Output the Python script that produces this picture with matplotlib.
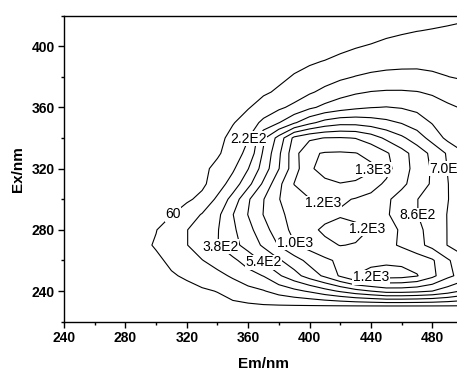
import matplotlib
import numpy as np

matplotlib.use("Agg")
import matplotlib.pyplot as plt
from matplotlib.ticker import MultipleLocator


OUT_FILE = "out.png"

# emission (columns) and excitation (rows) wavelengths of the EEM grid, nm
EM = [240, 250, 260, 270, 280, 290, 300, 310, 320, 330, 340, 350, 360, 370,
      380, 390, 400, 410, 420, 430, 440, 450, 460, 470, 480, 490, 500]
EX = [220, 230, 240, 250, 260, 270, 280, 290, 300, 310, 320,
      330, 340, 350, 360, 370, 380, 390, 400, 410, 420]

# fluorescence intensity, one row per excitation wavelength
INTENSITY = [
    [0, 0, 0, 0, 0, 0, 0, 0, 0, 0, 0, 0, 0, 0, 0, 0, 0, 0, 0, 0, 0, 0, 0, 0, 0, 0, 0],
    [0, 0, 0, 0, 0, 0, 0, 0, 0, 0, 5, 15, 30, 40, 40, 40, 40, 40, 40, 40, 40, 40, 40, 40, 40, 40, 40],
    [0, 0, 0, 0, 0, 0, 0, 5, 15, 40, 65, 130, 170, 210, 280, 340, 400, 480, 560, 640, 700, 760, 760, 740, 700, 620, 520],
    [0, 0, 0, 0, 0, 0, 20, 45, 80, 130, 180, 240, 320, 385, 520, 640, 770, 890, 1040, 1185, 1230, 1250, 1240, 1190, 1060, 900, 800],
    [0, 0, 0, 0, 0, 0, 30, 90, 160, 215, 280, 345, 450, 565, 680, 790, 910, 990, 1050, 1100, 1140, 1150, 1140, 1110, 1040, 880, 760],
    [0, 0, 0, 0, 0, 20, 75, 150, 215, 300, 375, 490, 600, 725, 870, 1010, 1080, 1140, 1185, 1170, 1120, 1060, 1000, 910, 810, 695, 600],
    [0, 0, 0, 0, 0, 10, 55, 140, 215, 300, 370, 510, 650, 800, 950, 1060, 1140, 1210, 1260, 1230, 1170, 1080, 1000, 900, 800, 695, 600],
    [0, 0, 0, 0, 0, 0, 20, 55, 140, 230, 340, 535, 705, 865, 995, 1060, 1100, 1130, 1160, 1130, 1090, 1040, 940, 865, 780, 695, 620],
    [0, 0, 0, 0, 0, 0, 0, 0, 35, 100, 250, 440, 680, 855, 1015, 1100, 1175, 1200, 1205, 1170, 1130, 1050, 950, 865, 780, 705, 620],
    [0, 0, 0, 0, 0, 0, 0, 0, 0, 30, 140, 290, 490, 730, 980, 1185, 1260, 1310, 1335, 1320, 1250, 1150, 1060, 940, 840, 705, 600],
    [0, 0, 0, 0, 0, 0, 0, 0, 0, 15, 110, 195, 375, 610, 855, 1110, 1320, 1390, 1420, 1410, 1370, 1240, 1080, 970, 840, 695, 600],
    [0, 0, 0, 0, 0, 0, 0, 0, 0, 0, 35, 150, 260, 565, 830, 1120, 1320, 1350, 1355, 1345, 1300, 1200, 1080, 950, 820, 680, 560],
    [0, 0, 0, 0, 0, 0, 0, 0, 0, 0, 10, 110, 215, 510, 760, 1060, 1150, 1185, 1190, 1175, 1100, 990, 890, 780, 640, 500, 400],
    [0, 0, 0, 0, 0, 0, 0, 0, 0, 0, 0, 50, 130, 260, 375, 520, 660, 760, 810, 810, 780, 740, 690, 620, 530, 450, 390],
    [0, 0, 0, 0, 0, 0, 0, 0, 0, 0, 0, 0, 50, 120, 190, 260, 350, 420, 470, 510, 535, 545, 530, 500, 450, 400, 370],
    [0, 0, 0, 0, 0, 0, 0, 0, 0, 0, 0, 0, 0, 40, 80, 130, 200, 260, 320, 360, 385, 395, 395, 385, 360, 330, 300],
    [0, 0, 0, 0, 0, 0, 0, 0, 0, 0, 0, 0, 0, 0, 30, 70, 100, 150, 190, 225, 250, 262, 265, 262, 245, 222, 200],
    [0, 0, 0, 0, 0, 0, 0, 0, 0, 0, 0, 0, 0, 0, 0, 20, 45, 65, 90, 120, 145, 165, 175, 180, 175, 170, 165],
    [0, 0, 0, 0, 0, 0, 0, 0, 0, 0, 0, 0, 0, 0, 0, 0, 0, 0, 30, 50, 70, 90, 105, 115, 120, 125, 130],
    [0, 0, 0, 0, 0, 0, 0, 0, 0, 0, 0, 0, 0, 0, 0, 0, 0, 0, 0, 0, 0, 30, 45, 58, 66, 72, 78],
    [0, 0, 0, 0, 0, 0, 0, 0, 0, 0, 0, 0, 0, 0, 0, 0, 0, 0, 0, 0, 0, 0, 0, 0, 20, 35, 45],
]

LEVELS = [60, 220, 380, 540, 700, 860, 1020, 1180, 1340]

# where each level carries its label (level, Em, Ex)
LABEL_SPOTS = [
    (60, 311, 290),
    (220, 360, 339.5),
    (380, 342, 269),
    (540, 370, 259),
    (1020, 391, 272),
    (1340, 441, 320),
    (700, 490, 320),
    (860, 470, 289.5),
    (1180, 410, 300),
    (1180, 437, 280),
    (1180, 440, 248.5),
]

FONT = "Liberation Sans"


def level_text(v):
    if v < 100:
        return f"{v:.0f}"
    return f"{v:.1E}".replace("E+0", "E")


def make_figure():
    plt.rcParams["font.family"] = [FONT, "DejaVu Sans"]

    fig = plt.figure(figsize=(4.57, 3.74), dpi=100)
    ax = fig.add_axes([64 / 457, 52.3 / 374, 399 / 457, 306.2 / 374])

    em = np.array(EM, dtype=float)
    ex = np.array(EX, dtype=float)
    z = np.array(INTENSITY, dtype=float)

    # one contour set per level so each label lands on its own line
    texts = []
    for lv in LEVELS:
        cs = ax.contour(em, ex, z, levels=[lv], colors="black", linewidths=0.8)
        spots = [(x, y) for l, x, y in LABEL_SPOTS if l == lv]
        if spots:
            cs.clabel(manual=spots, inline=False, fmt={lv: level_text(lv)},
                      fontsize=10)
            texts.extend(cs.labelTexts)
    for t in texts:
        t.set_rotation(0)
        t.set_family(FONT)
        t.set_bbox(dict(facecolor="white", edgecolor="none", pad=0.3))
        t.set_zorder(5)

    ax.set_xlim(240, 500)
    ax.set_ylim(220, 420)
    ax.xaxis.set_major_locator(MultipleLocator(40))
    ax.xaxis.set_minor_locator(MultipleLocator(20))
    ax.yaxis.set_major_locator(MultipleLocator(40))
    ax.yaxis.set_minor_locator(MultipleLocator(20))
    ax.tick_params(which="major", direction="out", length=4, width=1, pad=2.5,
                   labelsize=10)
    ax.tick_params(which="minor", direction="out", length=2.5, width=1)
    for lab in ax.get_xticklabels() + ax.get_yticklabels():
        lab.set_fontweight("bold")

    for side in ["left", "bottom", "top", "right"]:
        ax.spines[side].set_linewidth(1.0)

    ax.set_xlabel("Em/nm", fontsize=11, fontweight="bold", labelpad=9)
    ax.set_ylabel("Ex/nm", fontsize=11, fontweight="bold", labelpad=5)

    fig.savefig(OUT_FILE, dpi=100)
    plt.close(fig)


def main():
    make_figure()


if __name__ == "__main__":
    main()
